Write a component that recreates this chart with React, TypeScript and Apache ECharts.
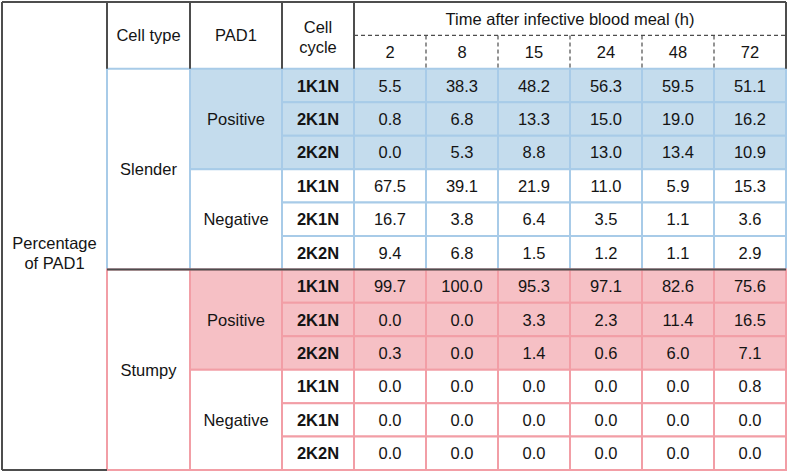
import React, { useEffect, useRef } from "react";
import * as echarts from "echarts";

// ---------- data ----------
const timeTitle = "Time after infective blood meal (h)";
const timeLabels = ["2", "8", "15", "24", "48", "72"];
const cellTypes = ["Slender", "Stumpy"];
const pad1States = ["Positive", "Negative"];
const cellCycles = ["1K1N", "2K1N", "2K2N"];
const sideLabel = "Percentage\nof PAD1";

const slenderPos1K1N = [5.5, 38.3, 48.2, 56.3, 59.5, 51.1];
const slenderPos2K1N = [0.8, 6.8, 13.3, 15.0, 19.0, 16.2];
const slenderPos2K2N = [0.0, 5.3, 8.8, 13.0, 13.4, 10.9];
const slenderNeg1K1N = [67.5, 39.1, 21.9, 11.0, 5.9, 15.3];
const slenderNeg2K1N = [16.7, 3.8, 6.4, 3.5, 1.1, 3.6];
const slenderNeg2K2N = [9.4, 6.8, 1.5, 1.2, 1.1, 2.9];
const stumpyPos1K1N = [99.7, 100.0, 95.3, 97.1, 82.6, 75.6];
const stumpyPos2K1N = [0.0, 0.0, 3.3, 2.3, 11.4, 16.5];
const stumpyPos2K2N = [0.3, 0.0, 1.4, 0.6, 6.0, 7.1];
const stumpyNeg1K1N = [0.0, 0.0, 0.0, 0.0, 0.0, 0.8];
const stumpyNeg2K1N = [0.0, 0.0, 0.0, 0.0, 0.0, 0.0];
const stumpyNeg2K2N = [0.0, 0.0, 0.0, 0.0, 0.0, 0.0];

const valueRows = [
  slenderPos1K1N, slenderPos2K1N, slenderPos2K2N,
  slenderNeg1K1N, slenderNeg2K1N, slenderNeg2K2N,
  stumpyPos1K1N, stumpyPos2K1N, stumpyPos2K2N,
  stumpyNeg1K1N, stumpyNeg2K1N, stumpyNeg2K2N,
];

// ---------- layout / style ----------
const COL_EDGES = [0, 105, 188, 280, 352, 424, 496, 568, 640, 712, 784];
const ROWS = 14;
const FONT = "'Helvetica Neue', Helvetica, Arial, 'Liberation Sans', sans-serif";
const FS = 16.5;
const DARK = "#4d4d4d";
const TEXT = "#141414";
const GROUP_STYLE = [
  { fill: "#c4dced", stroke: "#a8cbe8" },
  { fill: "#f6c0c5", stroke: "#f29ea6" },
];

type Cell = {
  c0: number; c1: number; r0: number; r1: number;
  text: string; fill: string; stroke: string | null; bold?: boolean; textRow?: number;
};

function buildCells(): Cell[] {
  const cells: Cell[] = [];
  cells.push({ c0: 0, c1: 1, r0: 0, r1: 14, text: sideLabel, fill: "#fff", stroke: null, textRow: 7.5 });
  cells.push({ c0: 1, c1: 2, r0: 0, r1: 2, text: "Cell type", fill: "#fff", stroke: null });
  cells.push({ c0: 2, c1: 3, r0: 0, r1: 2, text: "PAD1", fill: "#fff", stroke: null });
  cells.push({ c0: 3, c1: 4, r0: 0, r1: 2, text: "Cell\ncycle", fill: "#fff", stroke: null, textRow: 1.06 });
  cells.push({ c0: 4, c1: 10, r0: 0, r1: 1, text: timeTitle, fill: "#fff", stroke: null });
  timeLabels.forEach((t, i) => {
    cells.push({ c0: 4 + i, c1: 5 + i, r0: 1, r1: 2, text: t, fill: "#fff", stroke: null });
  });
  cellTypes.forEach((ct, g) => {
    const st = GROUP_STYLE[g];
    const base = 2 + g * 6;
    cells.push({ c0: 1, c1: 2, r0: base, r1: base + 6, text: ct, fill: "#fff", stroke: st.stroke });
    pad1States.forEach((p, pi) => {
      const fill = pi === 0 ? st.fill : "#fff";
      const pb = base + pi * 3;
      cells.push({ c0: 2, c1: 3, r0: pb, r1: pb + 3, text: p, fill, stroke: st.stroke });
      cellCycles.forEach((cc, ci) => {
        const r = pb + ci;
        cells.push({ c0: 3, c1: 4, r0: r, r1: r + 1, text: cc, fill, stroke: st.stroke, bold: true });
        const vals = valueRows[g * 6 + pi * 3 + ci];
        vals.forEach((v, vi) => {
          cells.push({ c0: 4 + vi, c1: 5 + vi, r0: r, r1: r + 1, text: v.toFixed(1), fill, stroke: st.stroke });
        });
      });
    });
  });
  return cells;
}

type Seg = { x0: number; y0: number; x1: number; y1: number; dashed?: boolean };
function buildLines(): Seg[] {
  const E = COL_EDGES;
  const L: Seg[] = [];
  L.push({ x0: E[0], y0: 0, x1: E[10], y1: 0 });
  L.push({ x0: E[0], y0: 0, x1: E[0], y1: ROWS });
  L.push({ x0: E[0], y0: ROWS, x1: E[1], y1: ROWS });
  [1, 2, 3, 4, 10].forEach((c) => L.push({ x0: E[c], y0: 0, x1: E[c], y1: 2 }));
  L.push({ x0: E[1], y0: 8, x1: E[10], y1: 8 });
  L.push({ x0: E[4], y0: 1, x1: E[10], y1: 1, dashed: true });
  [5, 6, 7, 8, 9].forEach((c) => L.push({ x0: E[c], y0: 1, x1: E[c], y1: 2, dashed: true }));
  return L;
}

export default function App() {
  const ref = useRef<HTMLDivElement>(null);
  useEffect(() => {
    document.body.style.margin = "0";
    if (!ref.current) return;
    const chart = echarts.init(ref.current, null, { renderer: "svg" });
    const cells = buildCells();
    const lines = buildLines();
    const E = COL_EDGES;
    chart.setOption({
      animation: false,
      grid: { left: 2, top: 2, width: 784, height: 468 },
      xAxis: { type: "value", min: 0, max: 784, show: false },
      yAxis: { type: "value", min: 0, max: ROWS, inverse: true, show: false },
      series: [
        {
          type: "custom",
          coordinateSystem: "cartesian2d",
          z: 1,
          silent: true,
          data: cells.map((c) => [E[c.c0], c.r0]),
          renderItem: (params: any, api: any) => {
            const c = cells[params.dataIndex];
            const p0 = api.coord([E[c.c0], c.r0]);
            const p1 = api.coord([E[c.c1], c.r1]);
            const ty = c.textRow !== undefined ? api.coord([0, c.textRow])[1] : (p0[1] + p1[1]) / 2;
            const children: any[] = [
              {
                type: "rect",
                shape: { x: p0[0], y: p0[1], width: p1[0] - p0[0], height: p1[1] - p0[1] },
                style: {
                  fill: c.fill,
                  stroke: c.stroke || "none",
                  lineWidth: c.stroke ? 2 : 0,
                },
              },
              {
                type: "text",
                z2: 10,
                style: {
                  text: c.text,
                  x: (p0[0] + p1[0]) / 2,
                  y: ty,
                  align: "center",
                  verticalAlign: "middle",
                  fontFamily: FONT,
                  fontSize: FS,
                  fontWeight: c.bold ? "bold" : "normal",
                  lineHeight: 20,
                  fill: TEXT,
                },
              },
            ];
            return { type: "group", children };
          },
        },
        {
          type: "custom",
          coordinateSystem: "cartesian2d",
          z: 5,
          silent: true,
          data: lines.map((l) => [l.x0, l.y0]),
          renderItem: (params: any, api: any) => {
            const l = lines[params.dataIndex];
            const a = api.coord([l.x0, l.y0]);
            const b = api.coord([l.x1, l.y1]);
            return {
              type: "line",
              shape: { x1: a[0], y1: a[1], x2: b[0], y2: b[1] },
              style: {
                stroke: DARK,
                lineWidth: l.dashed ? 1.2 : 2,
                lineDash: l.dashed ? [4, 3] : null,
              },
            };
          },
        },
      ],
    });
    return () => chart.dispose();
  }, []);
  return <div ref={ref} style={{ width: 787, height: 472 }} />;
}
